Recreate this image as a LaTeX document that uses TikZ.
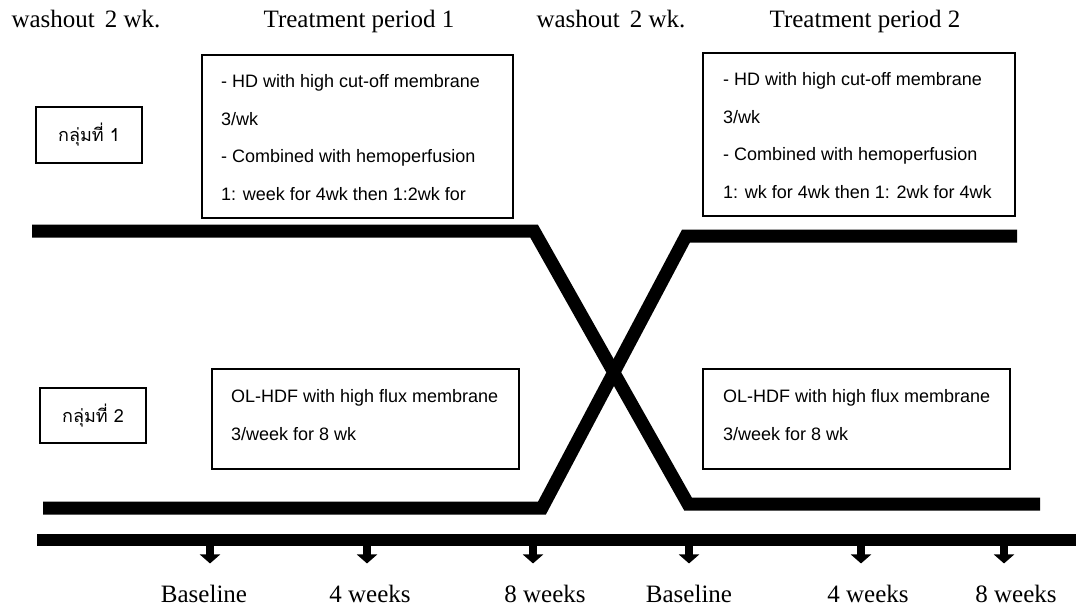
\documentclass[tikz,border=0pt]{standalone}
\usepackage{fontspec}
\setmainfont{Liberation Serif}
\newfontfamily\boxfont{Liberation Sans}
\newfontfamily\thaifont[Script=Thai]{Loma}
\usetikzlibrary{arrows.meta}

\begin{document}
\begin{tikzpicture}[x=1pt,y=-1pt,
  period/.style={font=\fontsize{25}{30}\selectfont, anchor=base, inner sep=0pt},
  armbox/.style={draw, line width=1.6pt, inner sep=0pt, anchor=north west},
  armtext/.style={font=\boxfont\fontsize{18}{37.5}\selectfont, align=left, anchor=base west, inner sep=0pt},
  grpbox/.style={draw, line width=1.6pt, inner sep=0pt, minimum width=106pt, font=\thaifont\fontsize{18}{22}\selectfont},
  arm/.style={line width=13pt, line join=miter},
  tickarrow/.style={line width=8pt, -{Triangle[width=20pt,length=9pt]}, shorten >=21pt}
]
\useasboundingbox (0,0) rectangle (1076,610);

% periods
\node[period] (wash1) at (86,28) {washout\hspace{10pt}2 wk.};
\node[period] (per1) at (359,28) {Treatment period 1};
\node[period] (wash2) at (611,28) {washout\hspace{10pt}2 wk.};
\node[period] (per2) at (865,28) {Treatment period 2};

% groups
\node[grpbox, minimum height=56pt] (grp1) at (89,135) {กลุ่มที่ 1};
\node[grpbox, minimum height=55pt] (grp2) at (93,415.5) {กลุ่มที่ 2};

% treatment boxes (text placed by its last line)
\node[armbox, minimum width=311pt, minimum height=163pt] (hdA) at (201,54) {};
\node[armtext] (hdAtxt) at ([shift={(20,146)}]hdA.north west)
  {- HD with high cut-off membrane\\3/wk\\- Combined with hemoperfusion\\1: week for 4wk then 1:2wk for};
\node[armbox, minimum width=312pt, minimum height=163pt] (hdB) at (702,52) {};
\node[armtext] (hdBtxt) at ([shift={(21,146)}]hdB.north west)
  {- HD with high cut-off membrane\\3/wk\\- Combined with hemoperfusion\\1: wk for 4wk then 1: 2wk for 4wk};
\node[armbox, minimum width=307pt, minimum height=100pt] (olA) at (211,368) {};
\node[armtext] (olAtxt) at ([shift={(20,72)}]olA.north west)
  {OL-HDF with high flux membrane\\3/week for 8 wk};
\node[armbox, minimum width=307pt, minimum height=100pt] (olB) at (702,368) {};
\node[armtext] (olBtxt) at ([shift={(21,72)}]olB.north west)
  {OL-HDF with high flux membrane\\3/week for 8 wk};

% crossover
\coordinate (g1a) at (32,231);
\coordinate (g1b) at (534,231);
\coordinate (g1c) at (688,504);
\coordinate (g1d) at (1040,504);
\coordinate (g2a) at (43,508);
\coordinate (g2b) at (542,508);
\coordinate (g2c) at (686,236);
\coordinate (g2d) at (1017,236);
\draw[arm] (g1a) -- (g1b) -- (g1c) -- (g1d);
\draw[arm] (g2a) -- (g2b) -- (g2c) -- (g2d);

% timeline
\coordinate (tl0) at (37,540);
\coordinate (tl1) at (1076,540);
\draw[line width=12pt] (tl0) -- (tl1);

\node[period] (m1) at (204,602) {Baseline};
\node[period] (m2) at (370,602) {4 weeks};
\node[period] (m3) at (545,602) {8 weeks};
\node[period] (m4) at (689,602) {Baseline};
\node[period] (m5) at (868,602) {4 weeks};
\node[period] (m6) at (1016,602) {8 weeks};
\coordinate (t1) at (210,540);
\coordinate (t2) at (367,540);
\coordinate (t3) at (533,540);
\coordinate (t4) at (689,540);
\coordinate (t5) at (861,540);
\coordinate (t6) at (1004,540);
\draw[tickarrow] (t1) -- (t1 |- m1.north);
\draw[tickarrow] (t2) -- (t2 |- m2.north);
\draw[tickarrow] (t3) -- (t3 |- m3.north);
\draw[tickarrow] (t4) -- (t4 |- m4.north);
\draw[tickarrow] (t5) -- (t5 |- m5.north);
\draw[tickarrow] (t6) -- (t6 |- m6.north);
\end{tikzpicture}
\end{document}
